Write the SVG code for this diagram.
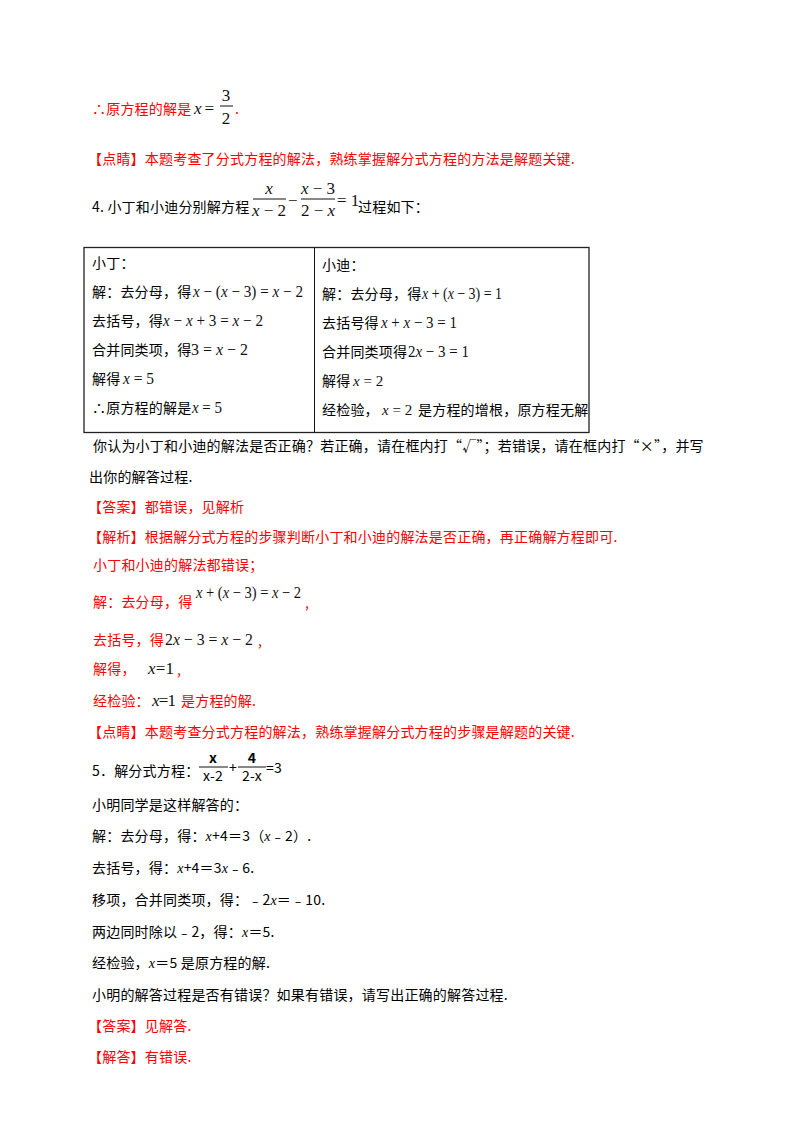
<svg xmlns="http://www.w3.org/2000/svg" width="800" height="1132" viewBox="0 0 800 1132">
<style>
text{font-family:"Noto Sans CJK SC","Liberation Serif",serif;font-size:14px;fill:#000;letter-spacing:0.2px}
.r{fill:#ff0000}
.m{font-family:"Liberation Serif",serif;font-size:17px;fill:#111;letter-spacing:0}
.i{font-style:italic}
.s{font-family:"Liberation Serif",serif;font-size:15px;fill:#111;letter-spacing:0}
line{stroke:#111;stroke-width:1}
</style>
<rect width="800" height="1132" fill="#fff"/>
<text x="92" y="114" class="r">∴原方程的解是</text>
<text x="194" y="114" class="m" textLength="20" lengthAdjust="spacing"><tspan class="i">x</tspan> =</text>
<text x="226" y="101" class="m" text-anchor="middle">3</text>
<line x1="220" y1="106" x2="233" y2="106"/>
<text x="226" y="124" class="m" text-anchor="middle">2</text>
<text x="235" y="114" class="r">.</text>
<text x="88" y="164" class="r">【点睛】本题考查了分式方程的解法，熟练掌握解分式方程的方法是解题关键.</text>
<text x="92" y="212">4. 小丁和小迪分别解方程</text>
<text x="269" y="194" class="m i" text-anchor="middle">x</text>
<line x1="253" y1="199" x2="286" y2="199"/>
<text x="269" y="216" class="m" text-anchor="middle"><tspan class="i">x</tspan> − 2</text>
<text x="288" y="206" class="m">−</text>
<text x="318" y="194" class="m" text-anchor="middle"><tspan class="i">x</tspan> − 3</text>
<line x1="301" y1="199" x2="335" y2="199"/>
<text x="318" y="216" class="m" text-anchor="middle">2 − <tspan class="i">x</tspan></text>
<text x="337" y="206" class="m">= 1</text>
<text x="358" y="212">过程如下：</text>
<g id="table">
<rect x="84" y="247.5" width="505" height="185" fill="none" stroke="#222" stroke-width="1.3"/>
<line x1="314.5" y1="247.5" x2="314.5" y2="432.5" stroke-width="1.3"/>
</g>
<g id="left">
<text x="92" y="268">小丁：</text>
<text x="92" y="297">解：去分母，得</text><text x="193" y="297" class="m" textLength="110" lengthAdjust="spacingAndGlyphs"><tspan class="i">x</tspan> − (<tspan class="i">x</tspan> − 3) = <tspan class="i">x</tspan> − 2</text>
<text x="92" y="326">去括号，得</text><text x="163" y="326" class="m" textLength="100" lengthAdjust="spacingAndGlyphs"><tspan class="i">x</tspan> − <tspan class="i">x</tspan> + 3 = <tspan class="i">x</tspan> − 2</text>
<text x="92" y="355">合并同类项，得</text><text x="191" y="355" class="m" textLength="57" lengthAdjust="spacingAndGlyphs">3 = <tspan class="i">x</tspan> − 2</text>
<text x="92" y="384">解得</text><text x="123" y="384" class="m" textLength="31" lengthAdjust="spacingAndGlyphs"><tspan class="i">x</tspan> = 5</text>
<text x="92" y="413">∴原方程的解是</text><text x="192" y="413" class="m" textLength="30" lengthAdjust="spacingAndGlyphs"><tspan class="i">x</tspan> = 5</text>
</g>
<g id="right">
<text x="322" y="270">小迪：</text>
<text x="322" y="299">解：去分母，得</text><text x="422" y="299" class="m" textLength="80" lengthAdjust="spacingAndGlyphs"><tspan class="i">x</tspan> + (<tspan class="i">x</tspan> − 3) = 1</text>
<text x="322" y="328">去括号得</text><text x="381" y="328" class="m" textLength="76" lengthAdjust="spacingAndGlyphs"><tspan class="i">x</tspan> + <tspan class="i">x</tspan> − 3 = 1</text>
<text x="322" y="357">合并同类项得</text><text x="408" y="357" class="m" textLength="61" lengthAdjust="spacingAndGlyphs">2<tspan class="i">x</tspan> − 3 = 1</text>
<text x="322" y="386">解得</text><text x="353" y="386" class="s"><tspan class="i">x</tspan> = 2</text>
<text x="322" y="415">经检验，</text><text x="382" y="415" class="s"><tspan class="i">x</tspan> = 2</text><text x="418" y="415">是方程的增根，原方程无解</text>
</g>
<text x="93" y="451">你认为小丁和小迪的解法是否正确？若正确，请在框内打“√”；若错误，请在框内打“×”，并写</text>
<text x="89" y="482">出你的解答过程.</text>
<text x="88" y="512" class="r">【答案】都错误，见解析</text>
<text x="88" y="542" class="r">【解析】根据解分式方程的步骤判断小丁和小迪的解法是否正确，再正确解方程即可.</text>
<text x="93" y="570" class="r">小丁和小迪的解法都错误；</text>
<text x="93" y="607" class="r">解：去分母，得</text>
<text x="196" y="598" class="m" textLength="105" lengthAdjust="spacingAndGlyphs"><tspan class="i">x</tspan> + (<tspan class="i">x</tspan> − 3) = <tspan class="i">x</tspan> − 2</text><text x="305" y="608" class="r">,</text>
<text x="93" y="645" class="r">去括号，得</text><text x="165" y="645" class="m" textLength="88" lengthAdjust="spacingAndGlyphs">2<tspan class="i">x</tspan> − 3 = <tspan class="i">x</tspan> − 2</text><text x="258" y="646" class="r">,</text>
<text x="93" y="674" class="r">解得，</text><text x="148" y="674" class="m" textLength="26" lengthAdjust="spacing"><tspan class="i">x</tspan> = 1</text><text x="177" y="675" class="r">,</text>
<text x="93" y="706" class="r">经检验：</text><text x="152" y="706" class="m" textLength="24" lengthAdjust="spacing"><tspan class="i">x</tspan> = 1</text><text x="181" y="706" class="r">是方程的解.</text>
<text x="88" y="737" class="r">【点睛】本题考查分式方程的解法，熟练掌握解分式方程的步骤是解题的关键.</text>
<text x="92" y="776">5．解分式方程：</text>
<text x="213" y="763" font-family="Liberation Serif" font-size="14" font-weight="bold" text-anchor="middle">x</text>
<line x1="199" y1="767" x2="228" y2="767"/>
<text x="213" y="781" font-family="Liberation Serif" font-size="15" text-anchor="middle">x-2</text>
<text x="229" y="773" font-family="Liberation Serif" font-size="12">+</text>
<text x="252" y="763" font-family="Liberation Serif" font-size="15" font-weight="bold" text-anchor="middle">4</text>
<line x1="238" y1="767" x2="266" y2="767"/>
<text x="252" y="781" font-family="Liberation Serif" font-size="15" text-anchor="middle">2-x</text>
<text x="266" y="773" font-family="Liberation Sans" font-size="15">=3</text>
<text x="92" y="810">小明同学是这样解答的：</text>
<text x="92" y="841">解：去分母，得：<tspan font-style="italic" font-family="Liberation Serif">x</tspan>+4＝3（<tspan font-style="italic" font-family="Liberation Serif">x</tspan>﹣2）.</text>
<text x="92" y="873">去括号，得：<tspan font-style="italic" font-family="Liberation Serif">x</tspan>+4＝3<tspan font-style="italic" font-family="Liberation Serif">x</tspan>﹣6.</text>
<text x="92" y="905">移项，合并同类项，得：﹣2<tspan font-style="italic" font-family="Liberation Serif">x</tspan>＝﹣10.</text>
<text x="92" y="937">两边同时除以﹣2，得：<tspan font-style="italic" font-family="Liberation Serif">x</tspan>＝5.</text>
<text x="92" y="968">经检验，<tspan font-style="italic" font-family="Liberation Serif">x</tspan>＝5 是原方程的解.</text>
<text x="92" y="1000">小明的解答过程是否有错误？如果有错误，请写出正确的解答过程.</text>
<text x="88" y="1031" class="r">【答案】见解答.</text>
<text x="88" y="1062" class="r">【解答】有错误.</text>
</svg>
